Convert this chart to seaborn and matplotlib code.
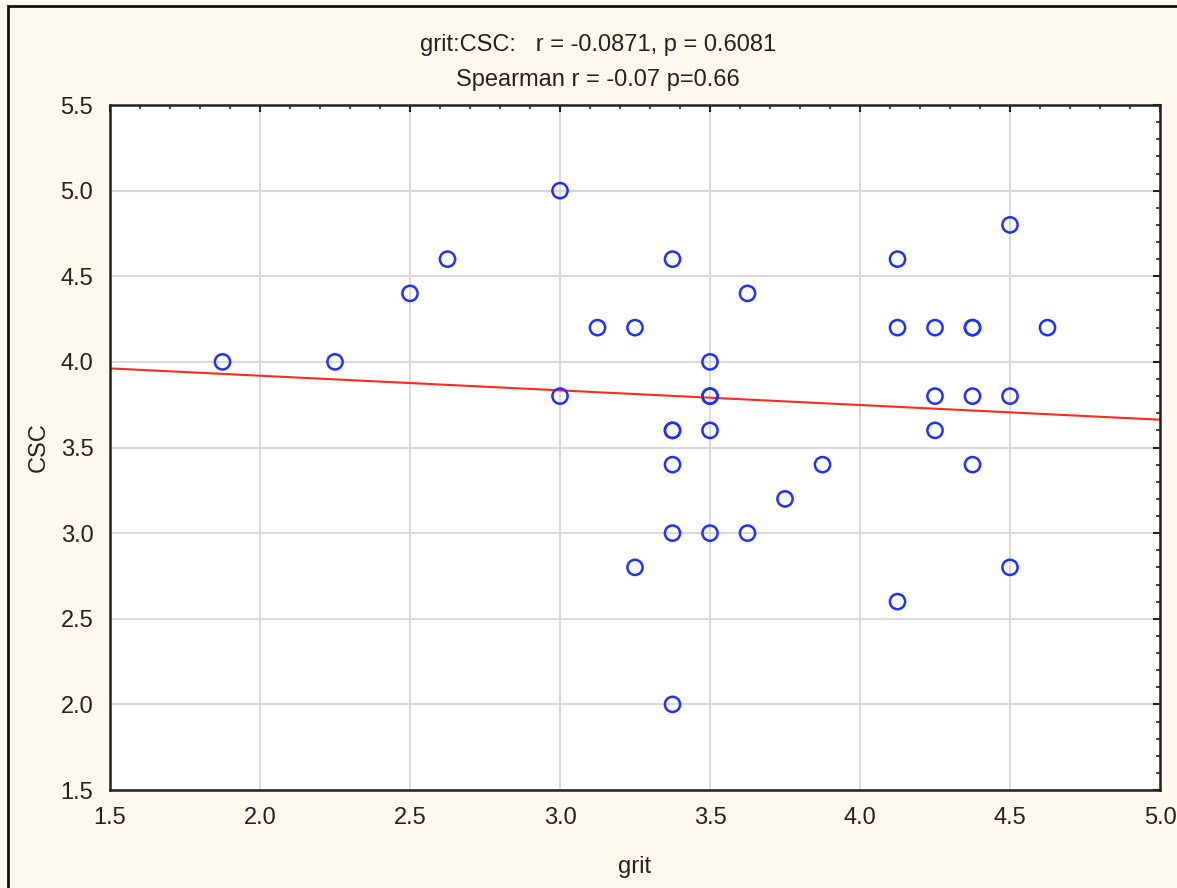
import numpy as np
import pandas as pd
import matplotlib.pyplot as plt
import seaborn as sns
from matplotlib.patches import Rectangle
from matplotlib.ticker import MultipleLocator

# values
grit = [1.875, 2.25, 2.5, 2.625, 3.0, 3.0, 3.125, 3.25, 3.25,
        3.375, 3.375, 3.375, 3.375, 3.375, 3.375,
        3.5, 3.5, 3.5, 3.5, 3.5, 3.625, 3.625, 3.75, 3.875,
        4.125, 4.125, 4.125, 4.25, 4.25, 4.25,
        4.375, 4.375, 4.375, 4.375, 4.5, 4.5, 4.5, 4.625]
csc = [4.0, 4.0, 4.4, 4.6, 5.0, 3.8, 4.2, 4.2, 2.8,
       4.6, 3.6, 3.6, 3.4, 3.0, 2.0,
       4.0, 3.8, 3.8, 3.6, 3.0, 4.4, 3.0, 3.2, 3.4,
       4.6, 4.2, 2.6, 4.2, 3.8, 3.6,
       4.2, 4.2, 3.8, 3.4, 4.8, 3.8, 2.8, 4.2]

titulo = "grit:CSC:   r = -0.0871, p = 0.6081\nSpearman r = -0.07 p=0.66"

df = pd.DataFrame({"grit": grit, "CSC": csc})

sns.set_style("white")
plt.rcParams["font.family"] = ["Liberation Sans", "DejaVu Sans"]

fundo = "#fef9ee"
fig = plt.figure(figsize=(11.77, 8.88), dpi=100, facecolor=fundo)
ax = fig.add_axes([110 / 1177, 98 / 888, 1050 / 1177, 685 / 888])
ax.set_facecolor("white")

# moldura escura da figura (cortada a direita e embaixo)
fig.patches.append(Rectangle((8 / 1177, -0.1), 1.2, 1 - 6 / 888 + 0.1,
                             transform=fig.transFigure, fill=False,
                             edgecolor="#111111", linewidth=2))

ax.set_xlim(1.5, 5.0)
ax.set_ylim(1.5, 5.5)

sns.regplot(
    data=df,
    x="grit",
    y="CSC",
    ci=None,
    truncate=False,
    ax=ax,
    scatter_kws=dict(facecolors="none", edgecolors="#1e32ff", s=120,
                     linewidths=1.8, alpha=1, zorder=3),
    line_kws=dict(color="#ff2a1a", linewidth=1.5, zorder=2),
)

ax.set_xlim(1.5, 5.0)
ax.set_ylim(1.5, 5.5)
ax.xaxis.set_major_locator(MultipleLocator(0.5))
ax.yaxis.set_major_locator(MultipleLocator(0.5))
ax.xaxis.set_minor_locator(MultipleLocator(0.1))
ax.yaxis.set_minor_locator(MultipleLocator(0.1))
ax.xaxis.set_major_formatter(plt.FormatStrFormatter("%.1f"))
ax.yaxis.set_major_formatter(plt.FormatStrFormatter("%.1f"))

ax.grid(True, which="major", color="#d9d9d9", linewidth=1.5)
ax.set_axisbelow(True)
ax.tick_params(which="both", direction="in", top=True, right=True,
               color="#222222", labelsize=17, labelcolor="#222222")
ax.tick_params(which="major", length=5, width=1.5, pad=12)
ax.tick_params(which="minor", length=3, width=1.2)
for lado in ax.spines.values():
    lado.set_visible(True)
    lado.set_color("#222222")
    lado.set_linewidth(1.8)

ax.set_xlabel("grit", fontsize=17, color="#222222", labelpad=20)
ax.set_ylabel("CSC", fontsize=17, color="#222222", labelpad=8)
ax.set_title(titulo, fontsize=17, color="#222222", linespacing=1.75,
             pad=14, x=0.465)

fig.savefig("out.png", dpi=100, facecolor=fundo)
